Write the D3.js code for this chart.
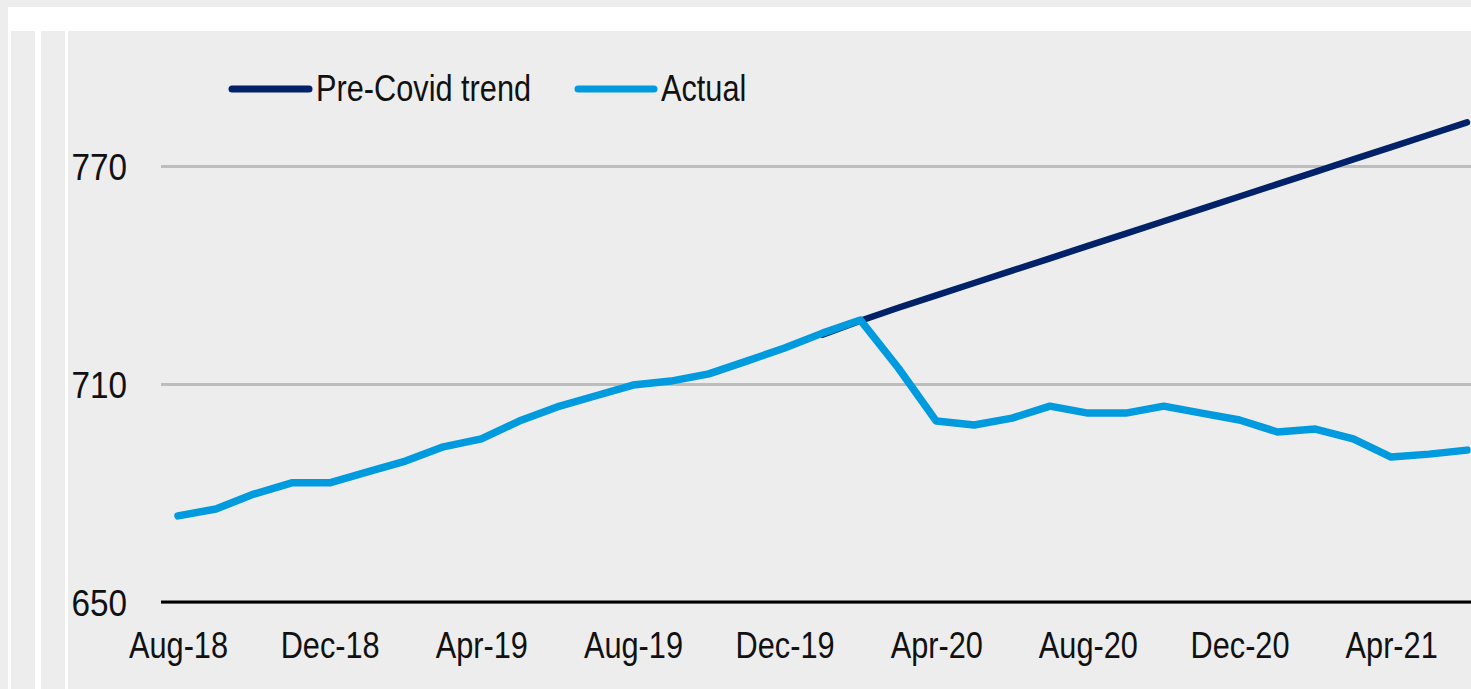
<!DOCTYPE html>
<html>
<head>
<meta charset="utf-8">
<script src="https://cdn.jsdelivr.net/npm/d3@7"></script>
<style>
  html, body { margin: 0; padding: 0; background: #ededed; }
  svg { display: block; }
  .lbl { font-family: "Liberation Sans", Arial, sans-serif; fill: #111; }
</style>
</head>
<body>
<svg id="chart" width="1471" height="689"></svg>
<script>
// ---- Data ----
const months = ["Aug-18","Sep-18","Oct-18","Nov-18","Dec-18","Jan-19","Feb-19","Mar-19","Apr-19","May-19","Jun-19","Jul-19",
  "Aug-19","Sep-19","Oct-19","Nov-19","Dec-19","Jan-20","Feb-20","Mar-20","Apr-20","May-20","Jun-20","Jul-20",
  "Aug-20","Sep-20","Oct-20","Nov-20","Dec-20","Jan-21","Feb-21","Mar-21","Apr-21","May-21","Jun-21"];
const actual = [673.7,675.6,679.7,682.8,682.8,685.8,688.8,692.7,694.9,699.8,703.7,706.7,
  709.7,710.8,712.8,716.3,719.9,724.0,727.6,714.4,699.8,698.7,700.6,703.9,
  702.0,702.0,703.9,702.0,700.1,696.8,697.6,694.9,689.9,690.7,691.8];
const trendMonths = ["Jan-20","Feb-20","Mar-20","Apr-20","May-20","Jun-20","Jul-20","Aug-20","Sep-20","Oct-20","Nov-20","Dec-20",
  "Jan-21","Feb-21","Mar-21","Apr-21","May-21","Jun-21"];
const trend = [723.6,727.4,731.0,734.4,737.8,741.2,744.6,748.0,751.4,754.8,758.2,761.6,765.0,768.4,771.8,775.2,778.6,782.0];
const xTickLabels = ["Aug-18","Dec-18","Apr-19","Aug-19","Dec-19","Apr-20","Aug-20","Dec-20","Apr-21"];
const yTicks = [650, 710, 770];
const seriesNames = ["Pre-Covid trend", "Actual"];

// ---- Layout ----
const W = 1471, H = 689;
const colNavy = "#012169", colBlue = "#009ade";
const narrow = "scale(0.83,1)";
const svg = d3.select("#chart");

// frame
svg.append("rect").attr("x",0).attr("y",0).attr("width",W).attr("height",H).attr("fill","#ededed");
svg.append("rect").attr("x",8).attr("y",7).attr("width",W-8).attr("height",24).attr("fill","#ffffff");
[[8,3],[35,6],[65,3]].forEach(([x,w]) => {
  svg.append("rect").attr("x",x).attr("y",31).attr("width",w).attr("height",H-31).attr("fill","#ffffff");
});

const x = d3.scalePoint().domain(months).range([178, 1467]);
const y = d3.scaleLinear().domain([650, 770]).range([602, 166]);

// gridlines
const grid = svg.append("g").attr("transform","translate(161,0)")
  .call(d3.axisRight(y).tickValues(yTicks).tickSize(W-161).tickFormat(""));
grid.select(".domain").remove();
grid.selectAll(".tick line").attr("stroke","#bdbdbd").attr("stroke-width",3);

// y labels
const yAx = svg.append("g").attr("transform","translate(127,0)")
  .call(d3.axisLeft(y).tickValues(yTicks).tickSize(0).tickPadding(0));
yAx.select(".domain").remove();
yAx.selectAll("text").attr("class","lbl").attr("font-size",37).attr("x",0).attr("dy","0.36em")
  .attr("fill","#111").attr("transform","scale(0.9,1)");

// baseline
svg.append("line").attr("x1",161).attr("x2",W).attr("y1",y(650)).attr("y2",y(650))
  .attr("stroke","#000").attr("stroke-width",3);

// x labels
const xAx = svg.append("g").attr("transform","translate(0,"+y(650)+")")
  .call(d3.axisBottom(x).tickValues(xTickLabels).tickSize(0).tickPadding(0));
xAx.select(".domain").remove();
xAx.selectAll("text").attr("class","lbl").attr("font-size",37).attr("dy",null).attr("y",56)
  .attr("fill","#111").attr("transform",narrow);

// lines
const line = d3.line().x(d => x(d[0])).y(d => y(d[1]));
svg.append("path").datum(trendMonths.map((m,i)=>[m,trend[i]]))
  .attr("d",line).attr("fill","none").attr("stroke",colNavy).attr("stroke-width",6.5)
  .attr("stroke-linecap","round").attr("stroke-linejoin","round");
svg.append("path").datum(months.map((m,i)=>[m,actual[i]]))
  .attr("d",line).attr("fill","none").attr("stroke",colBlue).attr("stroke-width",7.5)
  .attr("stroke-linecap","round").attr("stroke-linejoin","round");

// legend
const legend = [
  {name: seriesNames[0], color: colNavy, x1: 232, x2: 309, tx: 316},
  {name: seriesNames[1], color: colBlue, x1: 578, x2: 654, tx: 661}
];
legend.forEach(l => {
  svg.append("line").attr("x1",l.x1).attr("x2",l.x2).attr("y1",89).attr("y2",89)
    .attr("stroke",l.color).attr("stroke-width",7).attr("stroke-linecap","round");
  svg.append("g").attr("transform","translate("+l.tx+",101)")
    .append("text").attr("class","lbl").attr("x",0).attr("y",0).attr("font-size",37)
    .attr("transform",narrow).text(l.name);
});
</script>
</body>
</html>
